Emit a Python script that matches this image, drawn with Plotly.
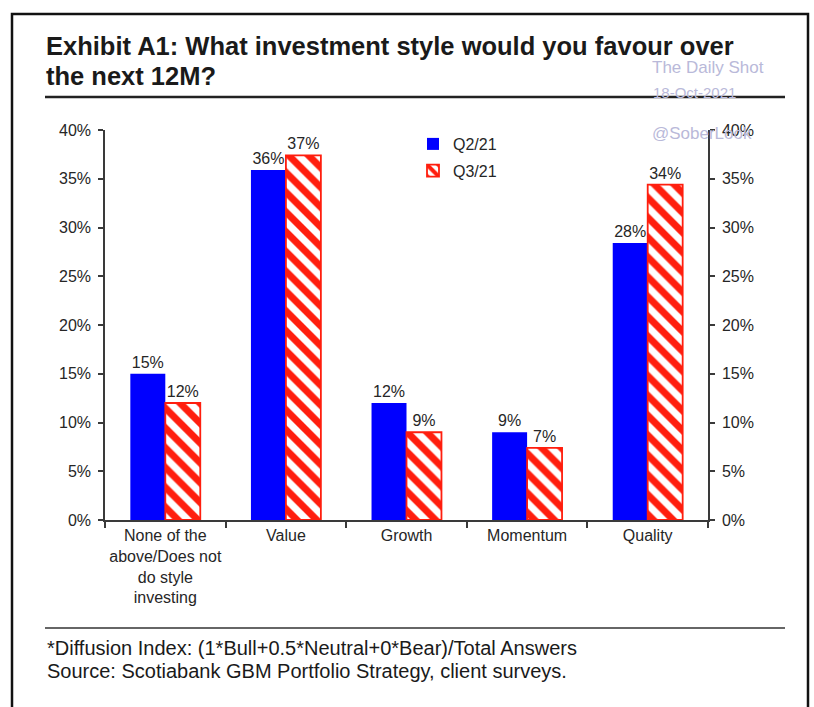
import plotly.graph_objects as go

# Survey results: share of respondents favouring each investment style
categories = [
    "None of the<br>above/Does not<br>do style<br>investing",
    "Value",
    "Growth",
    "Momentum",
    "Quality",
]
q2_21 = [15.0, 35.9, 12.0, 9.0, 28.4]
q3_21 = [12.0, 37.4, 9.0, 7.4, 34.4]
y_ticks = [0, 5, 10, 15, 20, 25, 30, 35, 40]
y_tick_labels = [f"{v}%" for v in y_ticks]

W, H = 814, 707
L, R, T, B = 105, 106, 130, 187
plot_w = W - L - R
plot_h = H - T - B


def px(x):
    return (x - L) / plot_w


def py(y):
    return (H - B - y) / plot_h


FONT = "Liberation Sans, Arial, sans-serif"
TXT = "#262626"
AXIS = "#3a3a3a"
RED = "#ff1e0e"

fig = go.Figure()

fig.add_trace(go.Bar(
    name="Q2/21",
    x=categories,
    y=q2_21,
    marker=dict(color="#0000ff", line=dict(width=0)),
    text=[f"{v:.0f}%" for v in q2_21],
    textposition="outside",
    textfont=dict(size=16, color=TXT, family=FONT),
    cliponaxis=False,
    legendgroup="a",
))
fig.add_trace(go.Bar(
    name="Q3/21",
    x=categories,
    y=q3_21,
    marker=dict(
        color="white",
        line=dict(color=RED, width=1.8),
        pattern=dict(shape="\\", fgcolor=RED, bgcolor="white", fgopacity=1,
                     size=14, solidity=0.5),
    ),
    text=[f"{v:.0f}%" for v in q3_21],
    textposition="outside",
    textfont=dict(size=16, color=TXT, family=FONT),
    cliponaxis=False,
    legendgroup="b",
))
# invisible trace so the right-hand axis is drawn
fig.add_trace(go.Scatter(x=[categories[0]], y=[0], yaxis="y2", mode="markers",
                         marker=dict(opacity=0), showlegend=False,
                         hoverinfo="skip"))

axis_common = dict(
    range=[0, 40],
    tickmode="array",
    tickvals=y_ticks,
    ticktext=y_tick_labels,
    ticks="outside",
    ticklen=5,
    tickcolor=AXIS,
    tickwidth=1.5,
    showline=True,
    linecolor=AXIS,
    linewidth=1.5,
    showgrid=False,
    zeroline=False,
    tickfont=dict(size=16, color=TXT, family=FONT),
    fixedrange=True,
)

fig.update_layout(
    width=W,
    height=H,
    margin=dict(l=L, r=R, t=T, b=B),
    paper_bgcolor="white",
    plot_bgcolor="white",
    barmode="group",
    bargap=0.42,
    bargroupgap=0,
    font=dict(family=FONT, color=TXT),
    xaxis=dict(
        tickson="boundaries",
        ticks="outside",
        ticklen=6,
        tickcolor=AXIS,
        tickwidth=1.5,
        showline=True,
        linecolor=AXIS,
        linewidth=1.5,
        showgrid=False,
        tickfont=dict(size=16, color=TXT, family=FONT),
        tickangle=0,
    ),
    yaxis=dict(**axis_common, side="left", ticklabelstandoff=4),
    yaxis2=dict(**axis_common, side="right", overlaying="y", ticklabelstandoff=4),
    legend=dict(
        x=px(413), y=py(127), xanchor="left", yanchor="top",
        bgcolor="rgba(0,0,0,0)",
        font=dict(size=16, color=TXT, family=FONT),
        itemwidth=30,
        traceorder="grouped",
        tracegroupgap=3,
    ),
    showlegend=True,
)

# watermark
wm = "#b9b9d9"
fig.add_annotation(text="The Daily Shot", x=px(650), y=py(68), xref="paper", yref="paper",
                   xanchor="left", yanchor="middle", showarrow=False,
                   font=dict(size=17, color=wm, family=FONT))
fig.add_annotation(text="18-Oct-2021", x=px(651), y=py(93), xref="paper", yref="paper",
                   xanchor="left", yanchor="middle", showarrow=False,
                   font=dict(size=15, color=wm, family=FONT))
fig.add_annotation(text="@SoberLook", x=px(650), y=py(133), xref="paper", yref="paper",
                   xanchor="left", yanchor="middle", showarrow=False,
                   font=dict(size=17, color=wm, family=FONT))

# title
fig.add_annotation(text="<b>Exhibit A1: What investment style would you favour over</b>",
                   x=px(44), y=py(46), xref="paper", yref="paper",
                   xanchor="left", yanchor="middle", showarrow=False,
                   font=dict(size=25.5, color="#1a1a1a", family=FONT))
fig.add_annotation(text="<b>the next 12M?</b>",
                   x=px(44), y=py(76), xref="paper", yref="paper",
                   xanchor="left", yanchor="middle", showarrow=False,
                   font=dict(size=25.5, color="#1a1a1a", family=FONT))

# footnotes
fig.add_annotation(text="*Diffusion Index: (1*Bull+0.5*Neutral+0*Bear)/Total Answers",
                   x=px(45), y=py(648), xref="paper", yref="paper",
                   xanchor="left", yanchor="middle", showarrow=False,
                   font=dict(size=20, color="#1a1a1a", family=FONT))
fig.add_annotation(text="Source: Scotiabank GBM Portfolio Strategy, client surveys.",
                   x=px(45), y=py(671), xref="paper", yref="paper",
                   xanchor="left", yanchor="middle", showarrow=False,
                   font=dict(size=20, color="#1a1a1a", family=FONT))

# frame and rules
fig.add_shape(type="rect", xref="paper", yref="paper",
              x0=px(12), x1=px(808), y0=py(760), y1=py(14),
              line=dict(color="#111111", width=2.5), layer="below")
fig.add_shape(type="line", xref="paper", yref="paper",
              x0=px(45), x1=px(785), y0=py(97), y1=py(97),
              line=dict(color="#222222", width=2.5))
fig.add_shape(type="line", xref="paper", yref="paper",
              x0=px(45), x1=px(785), y0=py(628), y1=py(628),
              line=dict(color="#333333", width=1.5))

fig.write_html("out.html")
